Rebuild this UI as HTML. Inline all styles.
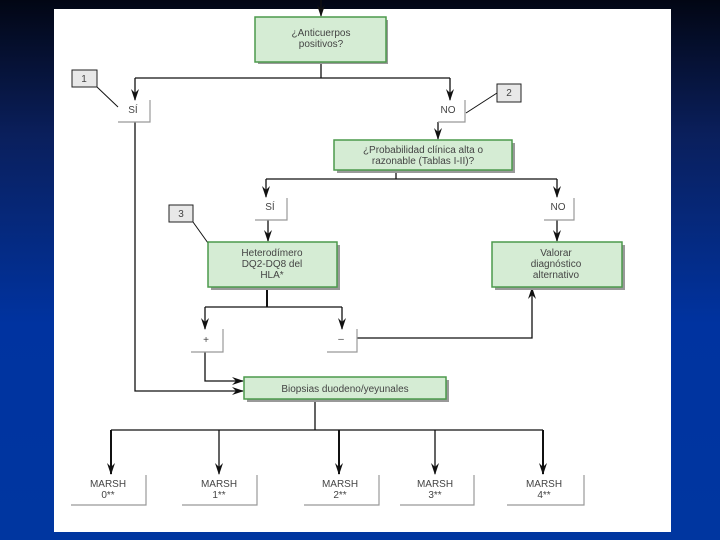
<!DOCTYPE html>
<html><head><meta charset="utf-8"><style>
body{margin:0;width:720px;height:540px;overflow:hidden;background:linear-gradient(180deg,#020614 0%,#0a1f5c 25%,#0033a0 60%,#0036a0 100%);font-family:"Liberation Sans",sans-serif;}
svg{position:absolute;left:0;top:0}
text{font-family:"Liberation Sans",sans-serif;font-size:10px;fill:#444;text-anchor:middle}
</style></head><body>
<svg width="720" height="540">
<defs><marker id="a" markerWidth="12" markerHeight="8" refX="11" refY="4" orient="auto" markerUnits="userSpaceOnUse"><path d="M0,0 L12,4 L0,8 L4,4 Z" fill="#111"/></marker></defs>
<rect x="54" y="9" width="617" height="523" fill="#fff"/>
<g stroke="#111" stroke-width="1.3" fill="none">
<line x1="321" y1="0" x2="321" y2="16" marker-end="url(#a)"/>
<polyline points="321,62 321,78"/>
<line x1="135" y1="78" x2="450" y2="78"/>
<line x1="135" y1="78" x2="135" y2="100" marker-end="url(#a)"/>
<line x1="450" y1="78" x2="450" y2="100" marker-end="url(#a)"/>
<line x1="438" y1="122" x2="438" y2="139" marker-end="url(#a)"/>
<line x1="396" y1="170" x2="396" y2="179"/>
<line x1="266" y1="179" x2="557" y2="179"/>
<line x1="266" y1="179" x2="266" y2="197" marker-end="url(#a)"/>
<line x1="557" y1="179" x2="557" y2="197" marker-end="url(#a)"/>
<line x1="268" y1="220" x2="268" y2="241" marker-end="url(#a)"/>
<line x1="557" y1="220" x2="557" y2="241" marker-end="url(#a)"/>
<line x1="267" y1="287" x2="267" y2="307" stroke-width="2"/>
<line x1="205" y1="307" x2="342" y2="307"/>
<line x1="205" y1="307" x2="205" y2="329" marker-end="url(#a)"/>
<line x1="342" y1="307" x2="342" y2="329" marker-end="url(#a)"/>
<polyline points="357,338 532,338 532,288" marker-end="url(#a)"/>
<polyline points="205,352 205,381 243,381" marker-end="url(#a)"/>
<polyline points="135,122 135,391 243,391" marker-end="url(#a)"/>
<line x1="315" y1="399" x2="315" y2="430"/>
<line x1="111" y1="430" x2="543" y2="430"/>
<line x1="111" y1="430" x2="111" y2="474" marker-end="url(#a)" stroke-width="2"/>
<line x1="219" y1="430" x2="219" y2="474" marker-end="url(#a)"/>
<line x1="339" y1="430" x2="339" y2="474" marker-end="url(#a)" stroke-width="2"/>
<line x1="435" y1="430" x2="435" y2="474" marker-end="url(#a)"/>
<line x1="543" y1="430" x2="543" y2="474" marker-end="url(#a)" stroke-width="2"/>
<line x1="97" y1="87" x2="118" y2="107" stroke-width="1"/>
<line x1="497" y1="93" x2="466" y2="113" stroke-width="1"/>
<line x1="193" y1="222" x2="208" y2="243" stroke-width="1"/>
</g>
<g fill="#d5ecd4" stroke="#4c9a4c" stroke-width="1.5">
<rect x="258" y="20" width="130" height="44" fill="#999" stroke="none"/>
<rect x="255" y="17" width="131" height="45"/>
<rect x="337" y="143" width="178" height="30" fill="#999" stroke="none"/>
<rect x="334" y="140" width="178" height="30"/>
<rect x="211" y="245" width="129" height="45" fill="#999" stroke="none"/>
<rect x="208" y="242" width="129" height="45"/>
<rect x="495" y="245" width="130" height="45" fill="#999" stroke="none"/>
<rect x="492" y="242" width="130" height="45"/>
<rect x="247" y="380" width="202" height="22" fill="#999" stroke="none"/>
<rect x="244" y="377" width="202" height="22"/>
</g>
<g fill="#e8e8e8" stroke="#222" stroke-width="1">
<rect x="72" y="70" width="25" height="17"/><rect x="497" y="84" width="24" height="18"/><rect x="169" y="205" width="24" height="17"/>
</g>
<g stroke="#999" stroke-width="1.2" fill="none">
<polyline points="118,122 150,122 150,100"/><polyline points="438,122 465,122 465,100"/>
<polyline points="255,220 287,220 287,198"/><polyline points="544,220 574,220 574,198"/>
<polyline points="191,352 223,352 223,329"/><polyline points="327,352 357,352 357,329"/>
<polyline points="71,505 146,505 146,475"/><polyline points="182,505 257,505 257,475"/>
<polyline points="304,505 379,505 379,475"/><polyline points="400,505 474,505 474,475"/>
<polyline points="507,505 584,505 584,475"/>
</g>
<text x="321" y="36">¿Anticuerpos</text><text x="321" y="47">positivos?</text>
<text x="84" y="82" font-size="9">1</text><text x="509" y="96" font-size="9">2</text><text x="181" y="217" font-size="9">3</text>
<text x="133" y="113">SÍ</text><text x="448" y="113">NO</text>
<text x="423" y="153">¿Probabilidad clínica alta o</text><text x="423" y="164">razonable (Tablas I-II)?</text>
<text x="270" y="210">SÍ</text><text x="558" y="210">NO</text>
<text x="272" y="256">Heterodímero</text><text x="272" y="267">DQ2-DQ8 del</text><text x="272" y="278">HLA*</text>
<text x="556" y="256">Valorar</text><text x="556" y="267">diagnóstico</text><text x="556" y="278">alternativo</text>
<text x="206" y="343">+</text><text x="341" y="342">–</text>
<text x="345" y="392">Biopsias duodeno/yeyunales</text>
<text x="108" y="487" font-size="9">MARSH</text><text x="108" y="498" font-size="9">0**</text>
<text x="219" y="487" font-size="9">MARSH</text><text x="219" y="498" font-size="9">1**</text>
<text x="340" y="487" font-size="9">MARSH</text><text x="340" y="498" font-size="9">2**</text>
<text x="435" y="487" font-size="9">MARSH</text><text x="435" y="498" font-size="9">3**</text>
<text x="544" y="487" font-size="9">MARSH</text><text x="544" y="498" font-size="9">4**</text>
</svg>
</body></html>
